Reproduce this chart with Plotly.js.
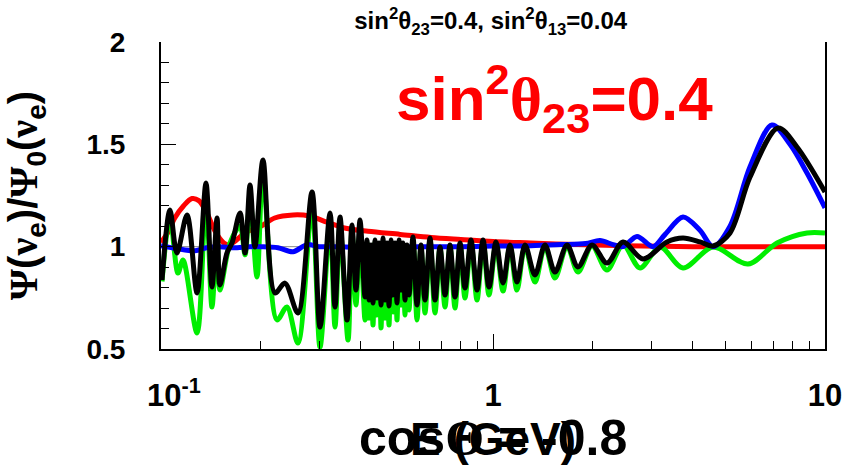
<!DOCTYPE html>
<html>
<head>
<meta charset="utf-8">
<script src="https://cdn.plot.ly/plotly-3.0.1.min.js"></script>
<style>html,body{margin:0;padding:0;background:#fff;}#chart{width:846px;height:468px;}</style>
</head>
<body>
<div id="chart"></div>
<script>
// ---- data (energy in GeV, flux ratio) ----
const energyRed = [0.1,0.105,0.11,0.117,0.124,0.13,0.137,0.145,0.152,0.158,0.165,0.18,0.2,0.22,0.25,0.28,0.316,0.36,0.42,0.525,0.65,0.8,1.0,1.3,1.8,2.5,4,10];
const ratioRed  = [1.02,1.07,1.14,1.2,1.235,1.225,1.17,1.08,1.03,1.01,1.02,1.07,1.10,1.14,1.155,1.15,1.12,1.09,1.075,1.06,1.045,1.035,1.025,1.018,1.01,1.005,1.0,1.0];

const energyBlue = [0.1,0.112,0.1266,0.137,0.15,0.165,0.185,0.2,0.225,0.2496,0.2753,0.3,0.35,0.4,0.45,0.5,0.6,0.8,1.0,1.3,1.6,1.9,2.1,2.3,2.464,2.715,3.034,3.3,3.736,4.2,4.6,5.175,5.945,6.925,7.844,8.827,10];
const ratioBlue  = [1.005,0.99,0.98,0.995,1.0,0.995,1.0,1.0,0.995,0.975,1.01,1.0,1.0,0.995,0.995,0.998,1.0,1.0,1.003,1.005,1.01,1.015,1.03,1.01,1.0,1.05,1.0,1.06,1.145,1.08,1.0,1.1,1.39,1.594,1.5,1.36,1.19];

const energyGreen = [0.1007,0.1064,0.1125,0.1165,0.1284,0.1366,0.1424,0.1475,0.1505,0.1614,0.1730,0.1791,0.1854,0.1946,0.2028,0.2236,0.2395,0.2585,0.2850,0.3013,0.3229,0.3343,0.3461,0.3659,0.3760,0.3866,0.3975,0.4115,
  0.4173,0.4232,0.4291,0.4351,0.4412,0.4474,0.4536,0.4600,0.4664,0.4729,0.4795,0.4862,0.4931,0.4999,0.5069,0.5139,0.5212,0.5284,0.5357,0.5432,0.5508,0.5585,
  0.5741,0.5903,0.6068,0.6240,0.6460,0.6688,0.6924,0.7169,0.7420,0.7684,0.7957,0.8234,0.8584,0.8951,0.9331,0.9727,1.021,1.072,1.125,1.181,1.249,1.338,1.434,1.537,1.671,1.803,1.987,2.205,2.464,2.773,3.185,3.736,4.600,5.863,7.169,8.827,10.0];
const ratioGreen = [0.83,1.145,0.871,0.935,0.578,1.243,0.705,1.081,0.788,1.018,1.10,0.96,1.228,0.852,1.360,0.642,0.705,0.529,1.194,0.510,1.116,0.607,1.096,0.544,1.081,0.715,1.067,0.642,
  1.018,0.651,0.998,0.617,1.018,0.666,1.008,0.603,1.023,0.651,1.008,0.617,1.018,0.681,1.008,0.642,1.018,0.715,1.008,0.666,0.998,0.691,
  1.033,0.642,0.998,0.676,1.033,0.676,0.993,0.705,0.998,0.700,1.008,0.749,1.023,0.739,1.023,0.764,1.013,0.783,1.003,0.788,1.003,0.827,1.003,0.847,1.003,0.876,1.003,0.886,1.008,0.896,0.998,0.896,0.998,0.915,1.018,1.067,1.067];

const energyBlack = [0.1007,0.1064,0.1117,0.1198,0.1284,0.1366,0.1424,0.1475,0.1505,0.1580,0.1636,0.1730,0.1791,0.1854,0.1919,0.2028,0.2205,0.2362,0.2585,0.2850,0.3013,0.3229,0.3343,0.3461,0.3633,0.3760,0.3866,0.3975,0.4115,
  0.4173,0.4232,0.4291,0.4351,0.4412,0.4474,0.4536,0.4600,0.4664,0.4729,0.4795,0.4862,0.4931,0.4999,0.5069,0.5139,0.5212,0.5284,0.5357,0.5432,0.5508,0.5585,
  0.5741,0.5903,0.6068,0.6240,0.6460,0.6688,0.6924,0.7169,0.7420,0.7684,0.7957,0.8234,0.8584,0.8951,0.9331,0.9727,1.021,1.072,1.125,1.181,1.249,1.338,1.434,1.537,1.671,1.803,1.987,2.205,2.464,2.830,3.343,3.736,4.203,4.600,5.175,5.945,7.219,8.233,10.0];
const ratioBlack = [0.837,1.179,0.969,1.155,0.774,1.311,0.803,1.140,0.813,0.969,1.018,1.165,0.969,1.301,0.998,1.423,0.774,0.822,0.676,1.267,0.607,1.165,0.705,1.145,0.642,1.106,0.788,1.130,0.754,
  1.033,0.739,1.008,0.725,1.033,0.749,1.018,0.715,1.042,0.739,1.018,0.710,1.033,0.764,1.018,0.725,1.033,0.788,1.018,0.739,1.008,0.764,
  1.047,0.715,1.008,0.739,1.042,0.739,0.998,0.764,1.008,0.754,1.018,0.798,1.033,0.788,1.033,0.803,1.023,0.822,1.008,0.827,1.008,0.862,1.008,0.876,1.008,0.901,1.008,0.920,1.023,0.940,1.023,1.042,1.023,1.003,1.067,1.340,1.580,1.487,1.267];

const xTickVals = [0.1, 1, 10];
const xTickText = ['\u00A0\u00A0\u00A010<sup>-1</sup>', '1', '10'];
const xMinorVals = [0.2,0.3,0.4,0.5,0.6,0.7,0.8,0.9,2,3,4,5,6,7,8,9];
const yTickVals = [0.5, 1, 1.5, 2];
const yTickText = ['0.5', '1', '1.5', '2'];

const FONT = 'Liberation Sans, Arial, Helvetica, sans-serif';
const SERIF = "Liberation Serif, Times New Roman, serif";

function line(x, y, color) {
  return {x: x, y: y, type: 'scatter', mode: 'lines',
    line: {color: color, width: 5, shape: 'spline', smoothing: 0.9},
    hoverinfo: 'skip', showlegend: false};
}

const traces = [
  line(energyRed, ratioRed, '#ff0000'),
  line(energyGreen, ratioGreen, '#00ee00'),
  line(energyBlue, ratioBlue, '#0000ff'),
  line(energyBlack, ratioBlack, '#000000')
];

const g = (s) => '<span style="font-family:' + SERIF + '">' + s + '</span>';

const layout = {
  width: 846, height: 468,
  margin: {l: 161, r: 21, t: 42, b: 119},
  paper_bgcolor: '#fff', plot_bgcolor: '#fff',
  font: {family: FONT, color: '#000'},
  title: {
    text: 'sin<sup>2</sup>θ<sub>23</sub>=0.4, sin<sup>2</sup>θ<sub>13</sub>=0.04',
    font: {family: FONT, size: 24, weight: 'bold', color: '#000'},
    x: 0.58, xref: 'container', xanchor: 'center',
    y: 0.955, yref: 'container', yanchor: 'middle'
  },
  xaxis: {
    type: 'log', range: [-1, 1],
    showgrid: false, zeroline: false,
    showline: true, linecolor: '#000', linewidth: 2, mirror: false,
    ticks: 'inside', ticklen: 15, tickwidth: 1, tickcolor: '#000',
    tickmode: 'array', tickvals: xTickVals, ticktext: xTickText,
    tickfont: {family: FONT, size: 31, weight: 'bold', color: '#000'},
    ticklabelstandoff: 18,
    minor: {tickmode: 'array', tickvals: xMinorVals, ticks: 'inside', ticklen: 8, tickwidth: 1, tickcolor: '#000', showgrid: false},
    title: {text: 'E (GeV)', font: {family: FONT, size: 46, weight: 'bold', color: '#000'}, standoff: 7}
  },
  yaxis: {
    range: [0.5, 2],
    showgrid: false, zeroline: false,
    showline: true, linecolor: '#000', linewidth: 2, mirror: true,
    ticks: 'inside', ticklen: 15, tickwidth: 1, tickcolor: '#000',
    tickmode: 'array', tickvals: yTickVals, ticktext: yTickText,
    tickfont: {family: FONT, size: 28, weight: 'bold', color: '#000'},
    ticklabelstandoff: 28,
    minor: {dtick: 0.1, ticks: 'inside', ticklen: 8, tickwidth: 1, tickcolor: '#000', showgrid: false},
    title: {text: g('Ψ') + '(' + g('ν') + '<sub>e</sub>)/' + g('Ψ') + '<sub>0</sub>(' + g('ν') + '<sub>e</sub>)',
      font: {family: FONT, size: 40, weight: 'bold', color: '#000'}, standoff: 36}
  },
  shapes: [{type: 'line', xref: 'paper', x0: 0, x1: 1, yref: 'y', y0: 1, y1: 1,
    line: {color: '#888', width: 1}, layer: 'below'}],
  annotations: [
    {text: 'sin<sup>2</sup>' + g('θ') + '<sub>23</sub>=0.4', xref: 'paper', yref: 'paper',
     x: 0.593, y: 0.815, xanchor: 'center', yanchor: 'middle', showarrow: false,
     font: {family: FONT, size: 62, weight: 'bold', color: '#ff0000'}},
    {text: 'cos' + g('Θ') + ' = -0.8', xref: 'paper', yref: 'paper',
     x: 0.5, y: -0.29, xanchor: 'center', yanchor: 'middle', showarrow: false,
     font: {family: FONT, size: 50, weight: 'bold', color: '#000'}}
  ]
};

Plotly.newPlot('chart', traces, layout, {staticPlot: true, displayModeBar: false});
</script>
</body>
</html>
